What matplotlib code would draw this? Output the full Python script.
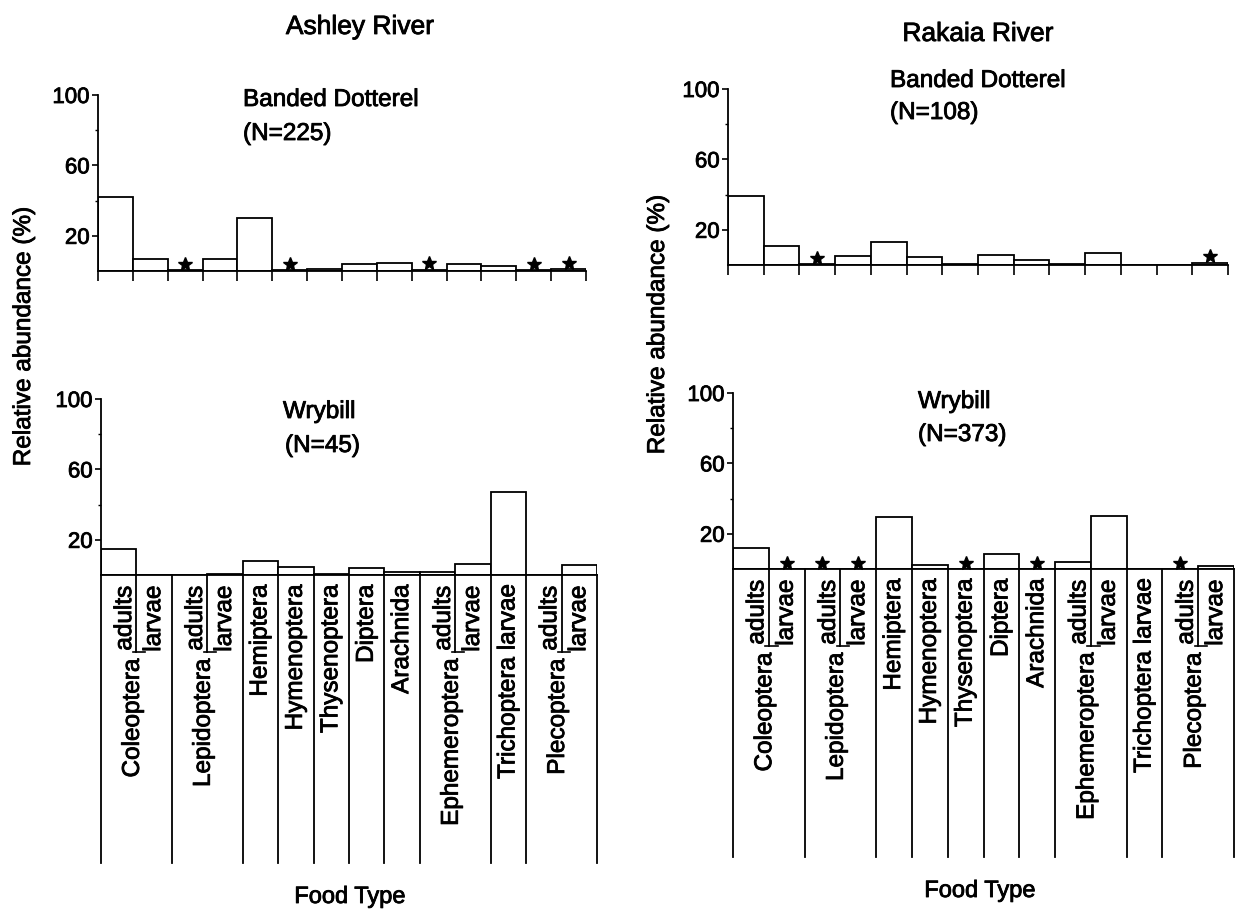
import matplotlib.pyplot as plt
import matplotlib.patheffects as pe
from matplotlib.transforms import offset_copy

plt.rcParams['font.family'] = ['Liberation Sans', 'DejaVu Sans']

# Food types: order name and stage (blank = single column)
orders = ["Coleoptera", "Coleoptera", "Lepidoptera", "Lepidoptera", "Hemiptera",
          "Hymenoptera", "Thysenoptera", "Diptera", "Arachnida", "Ephemeroptera",
          "Ephemeroptera", "Trichoptera larvae", "Plecoptera", "Plecoptera"]
stages = ["adults", "larvae", "adults", "larvae", "", "", "", "", "",
          "adults", "larvae", "", "adults", "larvae"]

# Relative abundance (%)
ashley_dotterel = [42, 7, 0.5, 7, 30, 0.3, 1, 4, 4.3, 0.8, 4, 3, 0.5, 1.2]
ashley_wrybill = [14.5, 0, 0, 0.5, 8, 4.8, 0.5, 3.8, 1.5, 1.5, 6.5, 47, 0, 5.5]
rakaia_dotterel = [39, 11, 0.5, 5, 13, 4.5, 0.5, 5.5, 2.8, 0.7, 6.8, 0, 0, 1.3]
rakaia_wrybill = [12, 0, 0, 0, 29.5, 2, 0, 8.5, 0, 4, 30, 0, 0, 1.7]

# categories marked with a star
ashley_dotterel_star = [2, 5, 9, 12, 13]
ashley_wrybill_star = []
rakaia_dotterel_star = [2, 13]
rakaia_wrybill_star = [1, 2, 3, 6, 8, 12]

W, H = 1236, 913
fig = plt.figure(figsize=(W / 100, H / 100), dpi=100)

# slightly heavier text, like the scanned print
heavy = [pe.withStroke(linewidth=0.6, foreground='black')]


def px_box(x0, x1, ytop, ybot):
    return [x0 / W, 1 - ybot / H, (x1 - x0) / W, (ybot - ytop) / H]


def bar_panel(box, values, stars, top_panel):
    ax = fig.add_axes(box)
    n = len(values)
    ax.bar(range(n), values, width=1.0, align='edge', color='white',
           edgecolor='black', linewidth=1.3)
    star_tr = offset_copy(ax.transData, fig=fig, x=0, y=4.5, units='points')
    for i in stars:
        ax.plot(i + 0.5, values[i], marker='*', color='black', markersize=10,
                transform=star_tr, clip_on=False)
    ax.set_xlim(0, n)
    ax.set_ylim(0, 100)
    for s in ['top', 'right']:
        ax.spines[s].set_visible(False)
    ax.spines['left'].set_linewidth(1.3)
    ax.spines['bottom'].set_linewidth(1.3)
    ax.set_yticks([20, 60, 100])
    ax.set_yticks([40, 80], minor=True)
    ax.tick_params(axis='y', which='major', length=4, width=1.2, labelsize=16, pad=2)
    ax.tick_params(axis='y', which='minor', length=2.5, width=1.0)
    for lab in ax.get_yticklabels():
        lab.set_path_effects(heavy)
    if top_panel:
        ax.set_xticks(range(n + 1))
        ax.set_xticklabels([])
        ax.tick_params(axis='x', length=7, width=1.2, direction='out')
    else:
        ax.set_xticks([])
    return ax


def label_panel(box, depth):
    ax = fig.add_axes(box)
    n = len(orders)
    ax.set_xlim(0, n)
    ax.set_ylim(depth, 0)
    ax.axis('off')
    for i in range(n + 1):
        if i == 0 or i == n or orders[i - 1] != orders[i]:
            ax.plot([i, i], [0, depth], color='black', lw=1.3, clip_on=False)
        else:
            ax.plot([i, i], [0, 77], color='black', lw=1.3)
            ax.plot([i - 0.1, i + 0.25], [77, 77], color='black', lw=1.2)
            ax.text(i - 0.1, 84, orders[i], rotation=90, ha='center', va='top',
                    fontsize=17.5, path_effects=heavy)
    for i in range(n):
        if stages[i] == "adults":
            ax.text(i + 0.68, 11, stages[i], rotation=90, ha='center', va='top',
                    fontsize=17.5, path_effects=heavy)
        elif stages[i] == "larvae":
            ax.text(i + 0.5, 11, stages[i], rotation=90, ha='center', va='top',
                    fontsize=17.5, path_effects=heavy)
        else:
            ax.text(i + 0.5, 10, orders[i], rotation=90, ha='center', va='top',
                    fontsize=17.5, path_effects=heavy)
    return ax


# Ashley River
bar_panel(px_box(98, 586, 95, 271), ashley_dotterel, ashley_dotterel_star, True)
bar_panel(px_box(101, 597, 399, 575), ashley_wrybill, ashley_wrybill_star, False)
label_panel(px_box(101, 597, 575, 863), 863 - 575)

# Rakaia River
bar_panel(px_box(728, 1228, 89, 265), rakaia_dotterel, rakaia_dotterel_star, True)
bar_panel(px_box(733, 1234, 393, 569), rakaia_wrybill, rakaia_wrybill_star, False)
label_panel(px_box(733, 1234, 569, 857), 857 - 569)


def ftext(x, y, s, **kw):
    fig.text(x / W, 1 - y / H, s, path_effects=heavy, **kw)


ftext(360, 27, "Ashley River", ha='center', va='center', fontsize=19)
ftext(978, 34, "Rakaia River", ha='center', va='center', fontsize=19)

ftext(243, 100, "Banded Dotterel", ha='left', va='center', fontsize=17.5)
ftext(243, 134, "(N=225)", ha='left', va='center', fontsize=17.5)
ftext(890, 81, "Banded Dotterel", ha='left', va='center', fontsize=17.5)
ftext(890, 113, "(N=108)", ha='left', va='center', fontsize=17.5)
ftext(283, 412, "Wrybill", ha='left', va='center', fontsize=17.5)
ftext(285, 446, "(N=45)", ha='left', va='center', fontsize=17.5)
ftext(918, 402, "Wrybill", ha='left', va='center', fontsize=17.5)
ftext(918, 435, "(N=373)", ha='left', va='center', fontsize=17.5)

ftext(24, 337, "Relative abundance (%)", rotation=90, ha='center', va='center', fontsize=17.5)
ftext(658, 325, "Relative abundance (%)", rotation=90, ha='center', va='center', fontsize=17.5)

ftext(350, 897, "Food Type", ha='center', va='center', fontsize=17)
ftext(980, 891, "Food Type", ha='center', va='center', fontsize=17)

fig.savefig("out.png", dpi=100)
